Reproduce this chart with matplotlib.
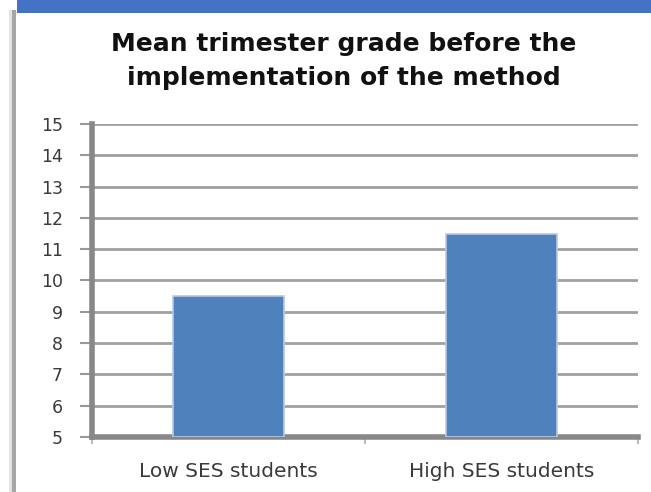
import matplotlib
matplotlib.use("Agg")
import matplotlib.pyplot as plt
from matplotlib.patches import Rectangle

categories = ["Low SES students", "High SES students"]
values = [9.5, 11.5]
yticks = list(range(5, 16))
title = "Mean trimester grade before the\nimplementation of the method"

W, H = 651, 492
fig = plt.figure(figsize=(W / 100, H / 100), dpi=100)
fig.patch.set_facecolor("white")

# top blue band and left border
fig.patches.append(Rectangle((17 / W, 1 - 13 / H), 1, 13 / H, transform=fig.transFigure,
                             facecolor="#4472C4", edgecolor="none", zorder=0))
fig.patches.append(Rectangle((9 / W, 0), 3 / W, 1 - 10 / H, transform=fig.transFigure,
                             facecolor="#e3e3e3", edgecolor="none", zorder=0))
fig.patches.append(Rectangle((12 / W, 0), 4 / W, 1 - 10 / H, transform=fig.transFigure,
                             facecolor="#a6a6a6", edgecolor="none", zorder=0))

ax = fig.add_axes([92 / W, 1 - 437 / H, (638 - 92) / W, (437 - 124) / H])
x = list(range(len(categories)))
ax.bar(x, [v - 5 for v in values], bottom=5, width=0.405, color="#4F81BD",
       edgecolor="#b8c9e6", linewidth=1.2, zorder=3)
ax.set_xlim(-0.5, 1.5)
ax.set_ylim(5, 15)
ax.set_yticks(yticks)
ax.set_yticklabels([str(t) for t in yticks], fontsize=12.5, color="#3a3a3a")
ax.set_xticks(x)
ax.set_xticklabels(categories, fontsize=14.5, color="#3a3a3a")
ax.tick_params(axis="x", length=0, pad=18)
ax.tick_params(axis="y", length=9, width=1.5, color="#999999", pad=12)
# minor ticks at category boundaries
ax.set_xticks([-0.5, 0.5, 1.5], minor=True)
ax.tick_params(axis="x", which="minor", length=5, width=1.5, color="#bbbbbb")

ax.grid(axis="y", color="#a0a0a0", linewidth=2, zorder=0)
ax.set_axisbelow(True)
for s in ["top", "right"]:
    ax.spines[s].set_visible(False)
for s in ["left", "bottom"]:
    ax.spines[s].set_color("#888888")
    ax.spines[s].set_linewidth(4)

fig.text(344 / W, 1 - 61 / H, title, ha="center", va="center", fontsize=18,
         fontweight="bold", color="#111111", linespacing=1.5)

fig.savefig("out.png", dpi=100)
